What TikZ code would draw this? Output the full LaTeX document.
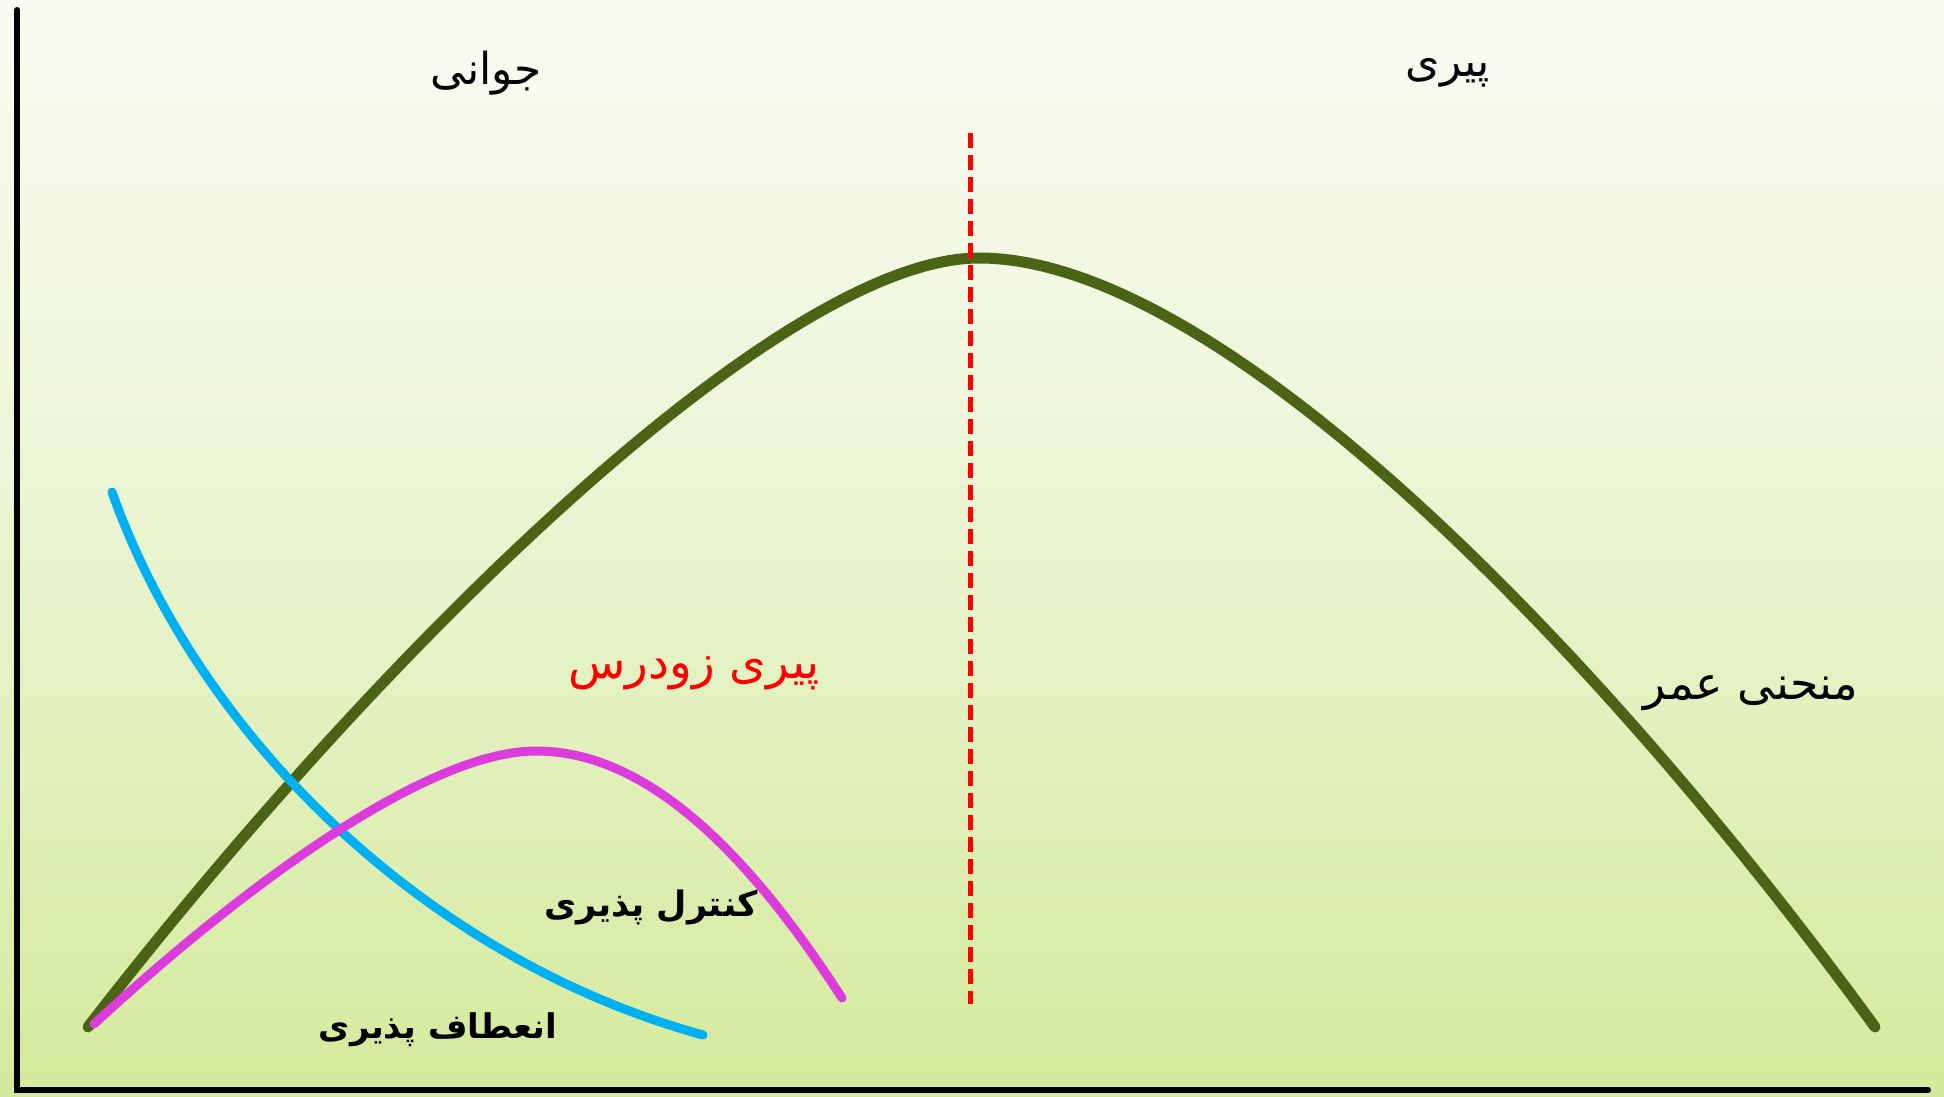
\documentclass[tikz,border=0pt]{standalone}
\usepackage{fontspec}
\newfontfamily\arabicfont[Script=Arabic]{DejaVu Sans}
\TeXXeTstate=1
\definecolor{bgtop}{HTML}{F9FCF2}
\definecolor{bgmid}{HTML}{EEF6DA}
\definecolor{bgbot}{HTML}{D4EA9C}
\definecolor{lifegreen}{HTML}{4B6314}
\definecolor{flexcyan}{HTML}{00B0F0}
\definecolor{ctrlmagenta}{HTML}{DC3CDC}
\begin{document}
\begin{tikzpicture}[x=1pt,y=-1pt,line cap=round,every node/.style={font=\arabicfont\fontsize{44}{50}\selectfont,inner sep=1pt}]
\useasboundingbox (0,0) rectangle (1944,1096);
\shade[top color=bgtop,bottom color=bgmid] (0,0) rectangle (1944,420);
\shade[top color=bgmid,bottom color=bgbot] (0,420) rectangle (1944,1096);
\coordinate (O) at (17,1090);
\coordinate (Y) at (17,10);
\coordinate (X) at (1928,1090);
\draw[line width=6pt] (Y) -- (O) -- (X);
% life curve
\coordinate (A) at (88,1027);
\coordinate (P) at (979,258);
\coordinate (E) at (1875,1027);
\draw[lifegreen,line width=11pt] (A) .. controls (380,650) and (780,258) .. (P)
  .. controls (1220,258) and (1600,650) .. (E);
% flexibility
\coordinate (C0) at (112,492);
\coordinate (C1) at (703,1035);
\draw[flexcyan,line width=9pt] (C0) .. controls (200,740) and (430,960) .. (C1);
% controllability
\coordinate (M0) at (94,1024);
\coordinate (MP) at (536,751);
\coordinate (M1) at (842,998);
\draw[ctrlmagenta,line width=9pt] (M0) .. controls (250,880) and (430,751) .. (MP)
  .. controls (640,751) and (740,840) .. (M1);
\coordinate (T) at (970,133);
\coordinate (B) at (970,1004);
\draw[red,line width=5pt,dash pattern=on 15pt off 7pt,line cap=butt] (T) -- (B);
\node (young) at (486,73) {\beginR جوانی\endR};
\node (old) at (1448,73) {\beginR پیری\endR};
\node[text=red,font=\arabicfont\fontsize{47}{52}\selectfont] (early) at (694,673) {\beginR پیری زودرس\endR};
\node[font=\arabicfont\fontsize{46}{52}\selectfont] (life) at (1751,693) {\beginR منحنی عمر\endR};
\node[font=\arabicfont\bfseries\fontsize{35}{40}\selectfont] (ctrl) at (651,907) {\beginR کنترل پذیری\endR};
\node[font=\arabicfont\bfseries\fontsize{34}{40}\selectfont] (flex) at (438,1030) {\beginR انعطاف پذیری\endR};
\end{tikzpicture}
\end{document}
